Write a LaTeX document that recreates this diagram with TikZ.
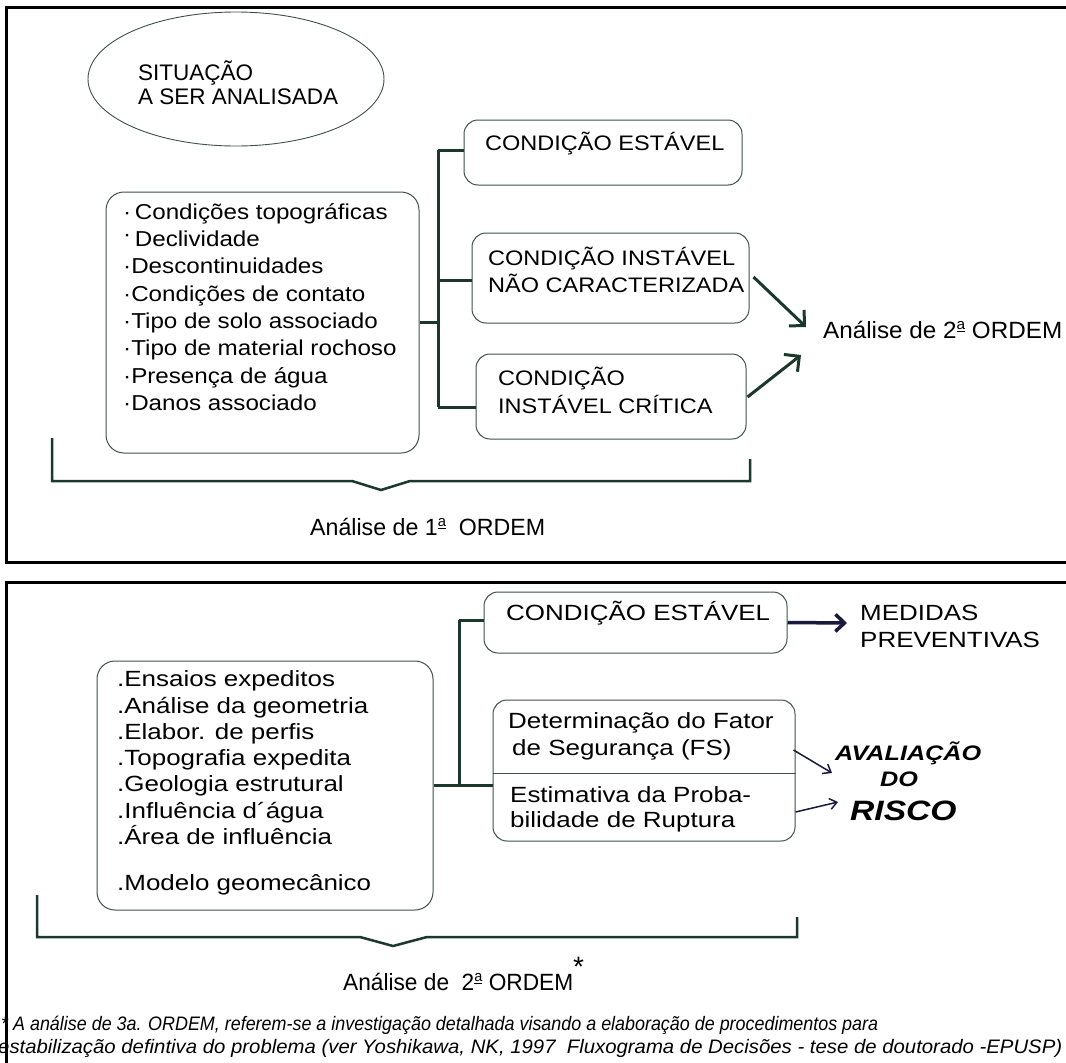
\documentclass[tikz,border=0pt]{standalone}
\usepackage{fontspec}
\usepackage{graphicx}
\setmainfont{Liberation Sans}
\newfontfamily\ftop[FakeStretch=1.12]{Liberation Sans}
\newfontfamily\fbot[FakeStretch=1.18]{Liberation Sans}
\newfontfamily\fbi[FakeStretch=1.2]{Liberation Sans}
\usetikzlibrary{arrows.meta,shapes.geometric}
\definecolor{lineg}{RGB}{28,56,44}
\definecolor{boxg}{RGB}{65,80,75}
\definecolor{navy}{RGB}{25,25,60}
\newcommand\supa{\raisebox{8.5pt}{\fontsize{15}{15}\selectfont\underline{a}}}
\begin{document}
\begin{tikzpicture}[x=1pt,y=-1pt,
  box/.style={draw=boxg, line width=1pt, rounded corners=14pt, inner sep=0pt},
  bus/.style={draw=lineg, line width=3pt},
  brace/.style={draw=lineg, line width=2.5pt, line join=miter},
  frame/.style={draw=black, line width=3pt},
  bigarr/.style={draw=lineg, line width=3pt, -{Straight Barb[length=11pt,width=22pt]}},
  navarr/.style={draw=navy, line width=3.5pt, -{Straight Barb[length=9pt,width=17pt]}},
  thinarr/.style={draw=navy, line width=1.5pt, -{Straight Barb[length=7pt,width=11pt]}},
  ttop/.style={anchor=base west, inner sep=0pt, font=\ftop\fontsize{21}{25}\selectfont},
  tord/.style={anchor=base west, inner sep=0pt, font=\fontsize{23.5}{25}\selectfont},
  tlist/.style={anchor=base west, inner sep=0pt, font=\ftop\fontsize{21.6}{25}\selectfont},
  tbot/.style={anchor=base west, inner sep=0pt, font=\fbot\fontsize{22}{25}\selectfont},
  tell/.style={anchor=base west, inner sep=0pt, font=\fontsize{22.5}{25}\selectfont},
  trisk/.style={anchor=base west, inner sep=0pt, font=\fbi\bfseries\itshape\fontsize{21}{25}\selectfont},
  tfoot/.style={anchor=base west, inner sep=0pt, font=\itshape\fontsize{19.5}{20}\selectfont}]
\useasboundingbox (0,0) rectangle (1066,1063);
\clip (0,0) rectangle (1066,1063);
\fill[white] (0,0) rectangle (1066,1063);

% ---------------- top panel ----------------
\node[draw=boxg, line width=0.9pt, ellipse, minimum width=296pt, minimum height=134pt, inner sep=0pt] (sit) at (236,79) {};
\node[tell] (sit1) at (138,80) {SITUAÇÃO};
\node[tell] (sit2) at (138,104) {A SER ANALISADA};

\node[box, rounded corners=18pt, minimum width=313pt, minimum height=261pt] (l1) at (262.5,322.5) {};
\node[tlist] (t1) at (123,219) {·\,Condições topográficas};
\node[tlist] (t2) at (123,246) {\raisebox{5pt}{·}\,Declividade};
\node[tlist] (t3) at (123,273.5) {·Descontinuidades};
\node[tlist] (t4) at (123,301) {·Condições de contato};
\node[tlist] (t5) at (123,328) {·Tipo de solo associado};
\node[tlist] (t6) at (123,355.5) {·Tipo de material rochoso};
\node[tlist] (t7) at (123,383) {·Presença de água};
\node[tlist] (t8) at (123,410) {·Danos associado};

\node[box, minimum width=278pt, minimum height=65pt] (b1) at (603,152.5) {};
\node[ttop] (b1t) at (485,150) {CONDIÇÃO ESTÁVEL};
\node[box, minimum width=277pt, minimum height=90pt] (b2) at (610.5,278) {};
\node[ttop] (b2t1) at (488,265) {CONDIÇÃO INSTÁVEL};
\node[ttop] (b2t2) at (488,292) {NÃO CARACTERIZADA};
\node[box, minimum width=270pt, minimum height=85pt] (b3) at (611,396.5) {};
\node[ttop] (b3t1) at (498,385) {CONDIÇÃO};
\node[ttop] (b3t2) at (498,413) {INSTÁVEL CRÍTICA};

\coordinate (bt) at (438,150);
\coordinate (bm) at (438,280);
\coordinate (bb) at (438,407);
\draw[bus] (bt) -- (bb);
\draw[bus] (l1.east) -- (l1.east -| bt);
\draw[bus] (bt) -- (bt -| b1.west);
\draw[bus] (bm) -- (bm -| b2.west);
\draw[bus] (bb) -- (bb -| b3.west);

\node[tord] (ord2a) at (823,338) {\resizebox{239pt}{\height}{Análise de 2\supa\ ORDEM}};
\coordinate (e1) at (806,327);
\coordinate (e2) at (801,355);
\draw[bigarr] ([xshift=4pt,yshift=1pt]b2.east) -- (e1);
\draw[bigarr] ([yshift=-0.5pt]b3.east) ++(1,0) -- (e2);

\draw[brace] (52,438) -- (52,481) -- (352,481) -- (381,490) -- (410,481) -- (750,481) -- (750,459);
\node[tord] (ord1) at (310,535) {\resizebox{235pt}{\height}{Análise de 1\supa\ \ ORDEM}};

% ---------------- bottom panel ----------------
\node[box, rounded corners=18pt, minimum width=336pt, minimum height=249pt] (l2) at (265,785.5) {};
\node[tbot] (u1) at (117,686) {.Ensaios expeditos};
\node[tbot] (u2) at (117,713) {.Análise da geometria};
\node[tbot] (u3) at (117,739) {.Elabor. de perfis};
\node[tbot] (u4) at (117,765) {.Topografia expedita};
\node[tbot] (u5) at (117,791) {.Geologia estrutural};
\node[tbot] (u6) at (117,818) {.Influência d´água};
\node[tbot] (u7) at (117,844) {.Área de influência};
\node[tbot] (u8) at (117,890) {.Modelo geomecânico};

\node[box, minimum width=303pt, minimum height=61pt] (c1) at (635.5,622.5) {};
\node[tbot] (c1t) at (506,620) {CONDIÇÃO ESTÁVEL};
\node[box, minimum width=302pt, minimum height=141pt] (c2) at (644,770.5) {};
\coordinate (dv) at (644,773);
\draw[draw=boxg, line width=1pt] (dv -| c2.west) -- (dv -| c2.east);
\node[tbot] (c2t1) at (508,728) {Determinação do Fator};
\node[tbot] (c2t2) at (512,755) {de Segurança (FS)};
\node[tbot] (c2t3) at (510,802) {Estimativa da Proba-};
\node[tbot] (c2t4) at (510,827) {bilidade de Ruptura};

\coordinate (ct) at (459,620);
\coordinate (cb) at (459,785);
\draw[bus] (ct) -- (cb);
\draw[bus] (ct) -- (ct -| c1.west);
\draw[bus] (cb -| l2.east) -- (cb -| c2.west);

\node[tbot] (med1) at (860,620) {MEDIDAS};
\node[tbot] (med2) at (860,647) {PREVENTIVAS};
\coordinate (me) at (847,623);
\draw[navarr] (c1.east) -- (me);

\node[trisk] (av1) at (835,760) {AVALIAÇÃO};
\node[trisk] (av2) at (880,786) {DO};
\node[trisk, font=\fbi\bfseries\itshape\fontsize{28}{30}\selectfont] (av3) at (850,820) {RISCO};
\coordinate (r1) at (832,773);
\coordinate (r2) at (838,802);
\draw[thinarr] (c2.east |- 0,750) ++(-2,0) -- (r1);
\draw[thinarr] (c2.east |- 0,812) -- (r2);

\draw[brace] (37,895) -- (37,937) -- (360,937) -- (393,946) -- (427,937) -- (797,937) -- (797,917);
\node[tord] (ord2) at (343,990) {\resizebox{230pt}{\height}{Análise de\ \ 2\supa\ ORDEM}\raisebox{14pt}{\fontsize{28}{28}\selectfont *}};

\node[tfoot] (fn1) at (1,1030) {\resizebox{877pt}{\height}{* A análise de 3a. ORDEM, referem-se a investigação detalhada visando a elaboração de procedimentos para}};
\node[tfoot] (fn2) at (-2,1053) {\resizebox{1064pt}{\height}{estabilização defintiva do problema (ver Yoshikawa, NK, 1997\ \ Fluxograma de Decisões - tese de doutorado -EPUSP)}};

% frames
\draw[frame] (1075,7) -- (6,7) -- (6,562) -- (1075,562);
\draw[frame] (1075,582) -- (6,582) -- (6,1075);
\end{tikzpicture}
\end{document}
